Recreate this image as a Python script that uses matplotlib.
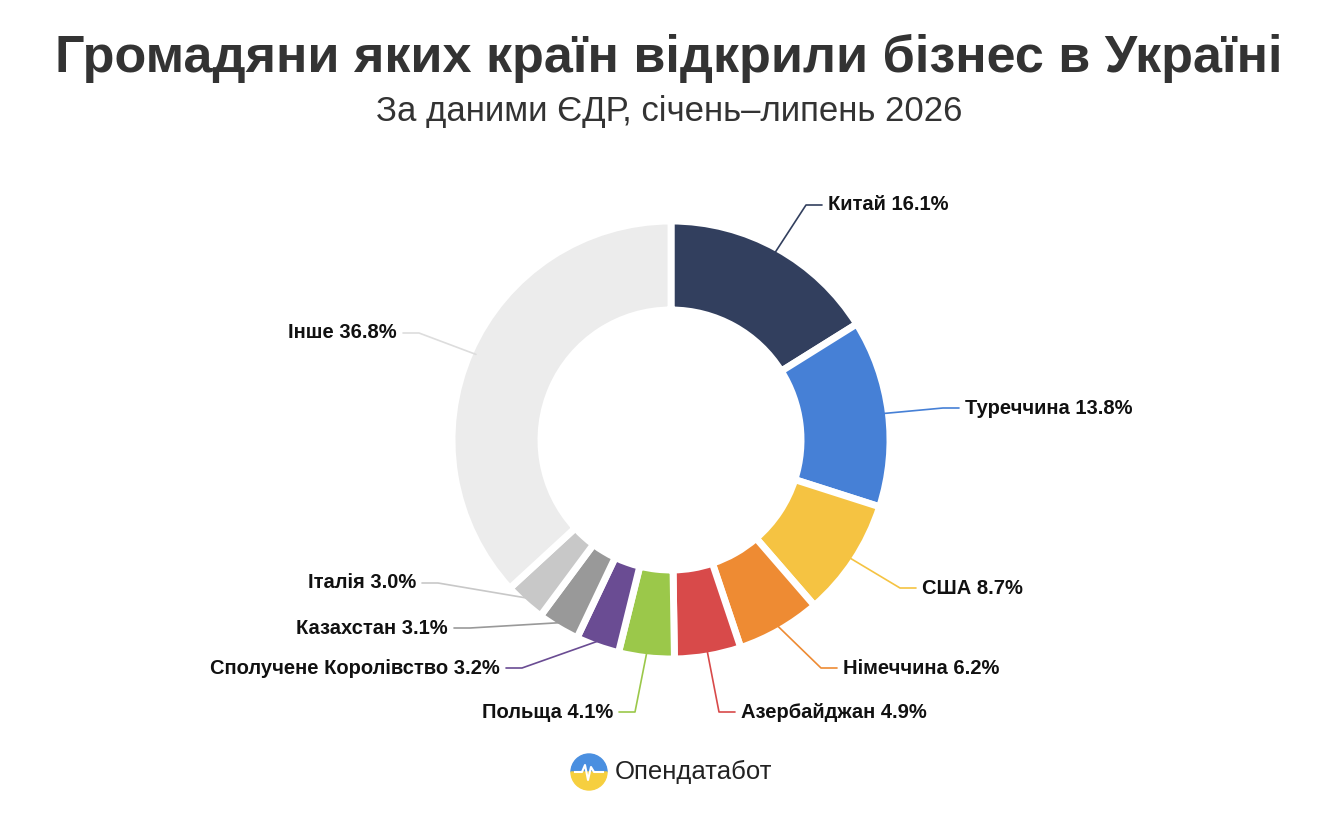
import matplotlib.pyplot as plt
import numpy as np
from matplotlib.patches import Wedge

plt.rcParams["font.family"] = ["Liberation Sans", "DejaVu Sans"]

countries = ["Китай", "Туреччина", "США", "Німеччина", "Азербайджан", "Польща",
             "Сполучене Королівство", "Казахстан", "Італія", "Інше"]
shares = [16.1, 13.8, 8.7, 6.2, 4.9, 4.1, 3.2, 3.1, 3.0, 36.8]
colors = ["#323f5e", "#4680d6", "#f5c342", "#ee8b33", "#d84a4a", "#9bc84a",
          "#6a4c93", "#999999", "#c8c8c8", "#ececec"]
# label text anchor (pixels, from top-left) and side
label_pos = [(828, 205, "l"), (965, 408, "l"), (922, 588, "l"), (843, 668, "l"),
             (741, 712, "l"), (613, 712, "r"), (500, 668, "r"), (448, 628, "r"),
             (416, 583, "r"), (397, 333, "r")]

W, H = 1338, 818
fig = plt.figure(figsize=(W / 100, H / 100), dpi=100)
ax = fig.add_axes([0, 0, 1, 1])

cx, cy, R = 671, H - 440, 219
ax.pie(shares, colors=colors, startangle=90, counterclock=False, center=(cx, cy),
       radius=R, wedgeprops=dict(width=89, edgecolor="white", linewidth=5),
       frame=True)
ax.set_xlim(0, W)
ax.set_ylim(0, H)
ax.set_aspect("equal")
ax.axis("off")

total = sum(shares)
start = 90.0
for name, val, col, (tx, ty, side) in zip(countries, shares, colors, label_pos):
    sweep = 360 * val / total
    mid = np.deg2rad(start - sweep / 2)
    start -= sweep
    x0, y0 = cx + (R - 6) * np.cos(mid), cy + (R - 6) * np.sin(mid)
    y = H - ty
    if side == "l":
        ex, hx, ha = tx - 22, tx - 6, "left"
    else:
        ex, hx, ha = tx + 22, tx + 6, "right"
    ax.plot([x0, ex, hx], [y0, y, y], color=col if col != "#ececec" else "#dddddd",
            lw=1.2, solid_capstyle="round")
    ax.text(tx, y, f"{name} {val}%", ha=ha, va="center", fontsize=14.5,
            fontweight="bold", color="#111111")

fig.text(0.5, 1 - 58 / H, "Громадяни яких країн відкрили бізнес в Україні",
         ha="center", va="center", fontsize=37.5, fontweight="bold", color="#333333")
fig.text(0.5, 1 - 112 / H, "За даними ЄДР, січень–липень 2026",
         ha="center", va="center", fontsize=25, color="#333333")

# logo
lx, ly = 589, H - 772
ax.add_patch(Wedge((lx, ly), 18, 0, 180, color="#4a8fe0"))
ax.add_patch(Wedge((lx, ly), 18, 180, 360, color="#f6cf3f"))
wx = np.array([-14, -7, -4, -1, 2, 5, 14]) + lx
wy = np.array([0, 0, 7, -8, 5, 0, 0]) + ly
ax.plot(wx, wy, color="white", lw=1.5)
ax.text(615, ly, "Опендатабот", ha="left", va="center", fontsize=18.5, color="#222222")

fig.savefig("out.png", dpi=100, facecolor="white")
